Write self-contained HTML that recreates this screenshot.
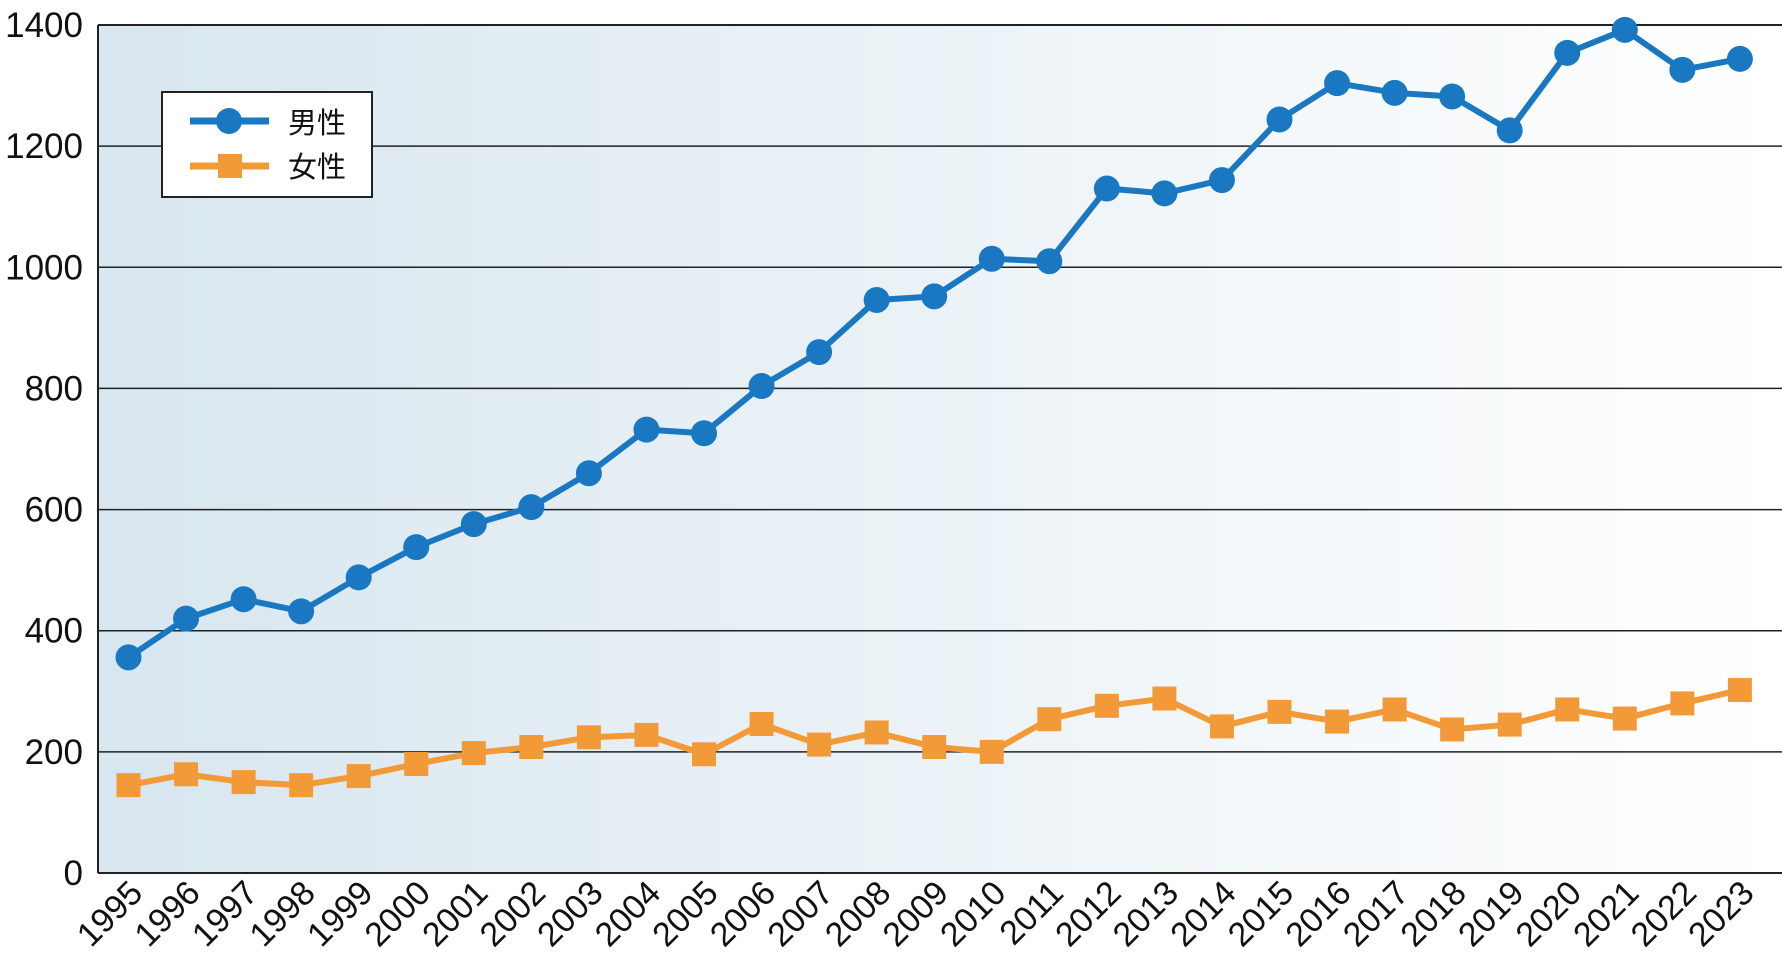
<!DOCTYPE html>
<html><head><meta charset="utf-8"><style>
html,body{margin:0;padding:0;background:#fff;width:1782px;height:965px;overflow:hidden}
text{font-family:"Liberation Sans","Noto Sans CJK JP",sans-serif;fill:#111}
</style></head><body>
<svg id="s" width="1782" height="965" xmlns="http://www.w3.org/2000/svg">
<defs><linearGradient id="g" x1="0" x2="1" y1="0" y2="0"><stop offset="0" stop-color="#d8e6ef"/><stop offset="1" stop-color="#ffffff"/></linearGradient></defs>
<rect x="98" y="25" width="1684" height="848" fill="url(#g)"/>
<g id="grid"></g>
<line x1="98" y1="25" x2="1782" y2="25" stroke="#222" stroke-width="2"/>
<line x1="98" y1="25" x2="98" y2="873" stroke="#222" stroke-width="2"/>
<line x1="98" y1="873" x2="1782" y2="873" stroke="#222" stroke-width="2"/>
<g id="data"></g>
<rect x="162" y="92" width="210" height="105" fill="#fff" stroke="#222" stroke-width="2"/>
<line x1="190" y1="121" x2="269" y2="121" stroke="#1a78c2" stroke-width="7"/>
<circle cx="229" cy="121" r="13" fill="#1a78c2"/>
<line x1="190" y1="166" x2="269" y2="166" stroke="#f39a38" stroke-width="7"/>
<rect x="218" y="154" width="24" height="24" fill="#f39a38"/>
<text x="288" y="133" font-size="29">男性</text>
<text x="288" y="177" font-size="29">女性</text>
</svg>
<script>
var ns="http://www.w3.org/2000/svg",s=document.getElementById('s');
function el(t,a,p,txt){var e=document.createElementNS(ns,t);for(var k in a)e.setAttribute(k,a[k]);if(txt!=null)e.textContent=txt;(p||s).appendChild(e);return e;}
var grid=document.getElementById('grid'),data=document.getElementById('data');
function Y(v){return 873-v*848/1400;}
function X(i){return 128.5+i*57.55;}
for(var v=0;v<=1400;v+=200){
 if(v>0&&v<1400)el('line',{x1:98,y1:Y(v),x2:1782,y2:Y(v),stroke:'#222','stroke-width':1.5},grid);
 el('text',{x:83,y:Y(v)+12,'font-size':35,'text-anchor':'end'},s,String(v));
}
for(var i=0;i<29;i++){
 var x=X(i);
 el('text',{x:0,y:0,'font-size':34,'text-anchor':'end',transform:'translate('+(x+16)+',895) rotate(-45)'},s,String(1995+i));
}
var m=[356,420,452,432,488,538,576,604,660,732,726,804,860,946,952,1014,1010,1130,1122,1144,1244,1304,1288,1282,1226,1354,1392,1326,1344];
var f=[145,163,150,145,160,180,198,208,224,228,196,246,212,232,208,200,254,276,288,242,266,250,270,237,245,270,255,280,302];
function pts(a){return a.map(function(v,i){return X(i)+','+Y(v)}).join(' ');}
el('polyline',{points:pts(f),fill:'none',stroke:'#f39a38','stroke-width':6,'stroke-linejoin':'round'},data);
f.forEach(function(v,i){el('rect',{x:X(i)-12,y:Y(v)-12,width:24,height:24,fill:'#f39a38'},data);});
el('polyline',{points:pts(m),fill:'none',stroke:'#1a78c2','stroke-width':6,'stroke-linejoin':'round'},data);
m.forEach(function(v,i){el('circle',{cx:X(i),cy:Y(v),r:13,fill:'#1a78c2'},data);});
</script>
</body></html>
